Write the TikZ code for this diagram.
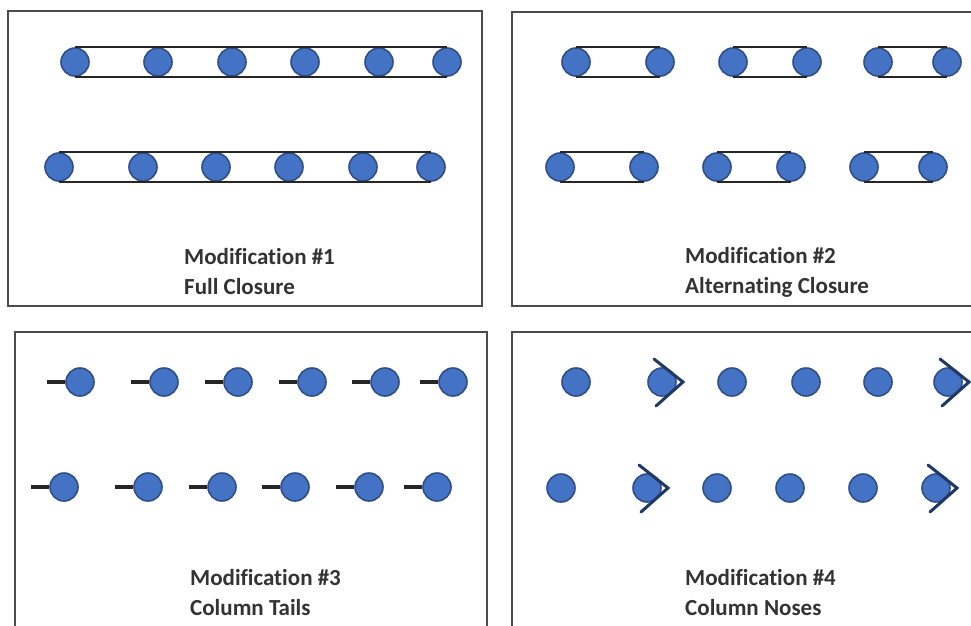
\documentclass[tikz,border=0pt]{standalone}
\usepackage{fontspec}
\setmainfont[Ligatures=NoCommon]{Carlito}
\usetikzlibrary{positioning}
\definecolor{dotblue}{HTML}{4472C4}
\definecolor{dotedge}{HTML}{2F4F86}
\definecolor{nosecol}{HTML}{1F3864}

\begin{document}
\begin{tikzpicture}[x=1pt, y=-1pt,
    col/.style={circle, fill=dotblue, draw=dotedge, line width=1.6pt, minimum size=28pt, inner sep=0pt},
    tie/.style={line width=1.8pt, black!85},
    tail/.style={line width=4pt, black!85},
    nose/.style={line width=3pt, nosecol, line cap=round},
    panel/.style={draw=black!70, line width=1.5pt},
    caption/.style={anchor=west, align=left, inner sep=0pt, font=\fontsize{23}{30}\selectfont\bfseries, text=black!80}]

    \clip (0,0) rectangle (971,625);

    % panel frames
    \draw[panel] (8,11) rectangle (482,306);
    \draw[panel] (512,12) rectangle (990,306);
    \draw[panel] (15,332) rectangle (487,650);
    \draw[panel] (512,332) rectangle (990,650);

    % modification 1
    \foreach \x [count=\i] in {75,158,232,305,379,447}
        \node[col] (a\i) at (\x,62) {};
    \foreach \x [count=\i] in {59,143,216,289,363,431}
        \node[col] (b\i) at (\x,167) {};
    \draw[tie] (a1.north) -- (a6.north) (a1.south) -- (a6.south);
    \draw[tie] (b1.north) -- (b6.north) (b1.south) -- (b6.south);
    \node[caption] (cap1) at (184,272) {Modification \#1\\Full Closure};

    % modification 2
    \foreach \x [count=\i] in {576,660,733,807,878,947}
        \node[col] (c\i) at (\x,62) {};
    \foreach \x [count=\i] in {560,644,717,791,864,933}
        \node[col] (d\i) at (\x,167) {};
    \foreach \i/\j in {1/2,3/4,5/6} {
        \draw[tie] (c\i.north) -- (c\j.north) (c\i.south) -- (c\j.south);
        \draw[tie] (d\i.north) -- (d\j.north) (d\i.south) -- (d\j.south);
    }
    \node[caption] (cap2) at (685,272) {Modification \#2\\Alternating Closure};

    % modification 3
    \foreach \x [count=\i] in {80,164,238,312,385,453} {
        \node[col] (e\i) at (\x,382) {};
        \coordinate (et\i) at (\x-33,382);
        \draw[tail] (et\i) -- (e\i.west);
    }
    \foreach \x [count=\i] in {64,148,222,295,369,437} {
        \node[col] (f\i) at (\x,487) {};
        \coordinate (ft\i) at (\x-33,487);
        \draw[tail] (ft\i) -- (f\i.west);
    }
    \node[caption] (cap3) at (190,593) {Modification \#3\\Column Tails};

    % modification 4
    \foreach \x [count=\i] in {576,662,732,806,878,948}
        \node[col] (g\i) at (\x,382) {};
    \foreach \x [count=\i] in {561,647,717,790,863,936}
        \node[col] (h\i) at (\x,488) {};
    \foreach \i in {2,6} {
        \draw[nose] ([shift={(-8,-23)}]g\i.center) -- ([shift={(21,0)}]g\i.center) -- ([shift={(-6,24)}]g\i.center);
        \draw[nose] ([shift={(-8,-23)}]h\i.center) -- ([shift={(21,0)}]h\i.center) -- ([shift={(-6,24)}]h\i.center);
    }
    \node[caption] (cap4) at (685,593) {Modification \#4\\Column Noses};
\end{tikzpicture}
\end{document}
